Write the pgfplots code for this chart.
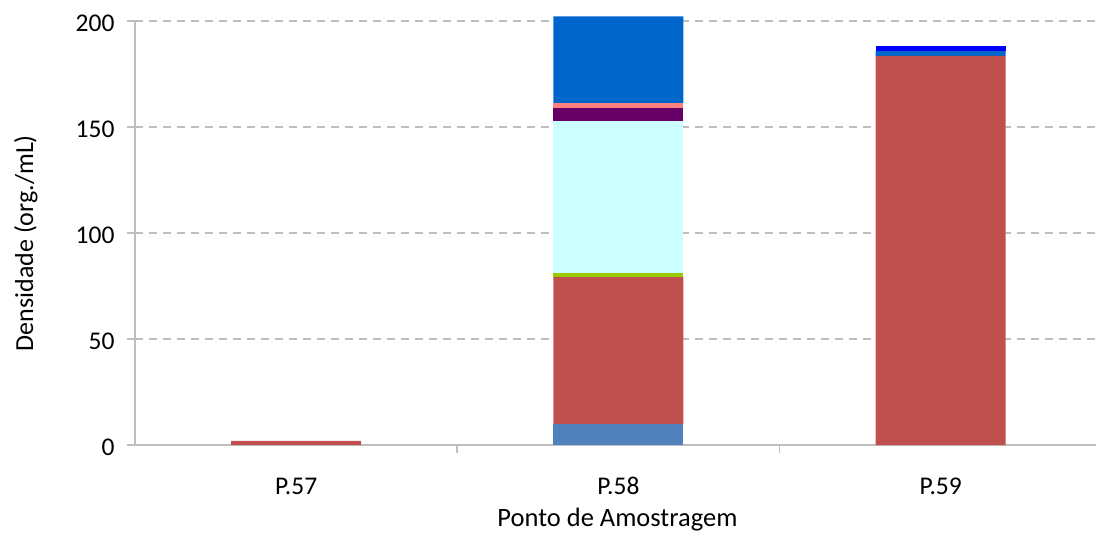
\documentclass[border=0pt]{standalone}
\usepackage{pgfplots}
\pgfplotsset{compat=1.18}
\usepackage{fontspec}
\setmainfont{Carlito}
\definecolor{c1}{HTML}{4F81BD}
\definecolor{c2}{HTML}{C0504D}
\definecolor{c3}{HTML}{99CC00}
\definecolor{c4}{HTML}{CCFFFF}
\definecolor{c5}{HTML}{660066}
\definecolor{c6}{HTML}{FF8080}
\definecolor{c7}{HTML}{0066CC}
\definecolor{c8}{HTML}{0000FF}
\definecolor{axgray}{HTML}{BEBEBE}
\begin{document}
\fontsize{25bp}{30bp}\selectfont
\begin{tikzpicture}
\useasboundingbox (-135bp,-93bp) rectangle (961bp,445bp);
\begin{axis}[
  at={(0,0)}, anchor=south west,
  scale only axis, width=961bp, height=424bp,
  ybar stacked, bar width=0.403,
  xmin=-0.5, xmax=2.482, ymin=0, ymax=200,
  clip=false,
  axis x line*=bottom, axis y line*=left,
  axis line style={draw=axgray, line width=1.6bp},
  every tick/.style={draw=axgray, line width=1.6bp},
  tick align=outside,
  major tick length=8bp,
  xtick={0.5,1.5}, xticklabels={},
  extra x ticks={0,1,2},
  extra x tick labels={P.57,P.58,P.59},
  extra x tick style={tick style={draw=none}, xticklabel style={anchor=base, yshift=-41bp}},
  ytick={0,50,100,150,200},
  ymajorgrids,
  grid style={draw=axgray, line width=1.4bp, dash pattern=on 8bp off 6bp},
  /pgf/number format/assume math mode=true,
  ticklabel style={font=\fontsize{25.5bp}{30bp}\selectfont, text=black},
  yticklabel style={anchor=east, xshift=-4bp, yshift=-2bp},
  xlabel={Ponto de Amostragem},
  xlabel style={at={(axis description cs:0.502,-0.192)}, anchor=base, font=\fontsize{26.5bp}{30bp}\selectfont},
  ylabel={Densidade (org./mL)},
  ylabel style={at={(axis description cs:-0.106,0.476)}, anchor=base, font=\fontsize{26bp}{30bp}\selectfont},
]
\addplot[fill=c1, draw=none] coordinates {(0,0) (1,10) (2,0)};
\addplot[fill=c2, draw=none] coordinates {(0,2) (1,69.2) (2,183.5)};
\addplot[fill=c3, draw=none] coordinates {(0,0) (1,1.9) (2,0)};
\addplot[fill=c4, draw=none] coordinates {(0,0) (1,71.7) (2,0)};
\addplot[fill=c5, draw=none] coordinates {(0,0) (1,6.3) (2,0)};
\addplot[fill=c6, draw=none] coordinates {(0,0) (1,2.2) (2,0)};
\addplot[fill=c7, draw=none] coordinates {(0,0) (1,40.9) (2,2.3)};
\addplot[fill=c8, draw=none] coordinates {(0,0) (1,0) (2,2.4)};
\end{axis}
\end{tikzpicture}
\end{document}
